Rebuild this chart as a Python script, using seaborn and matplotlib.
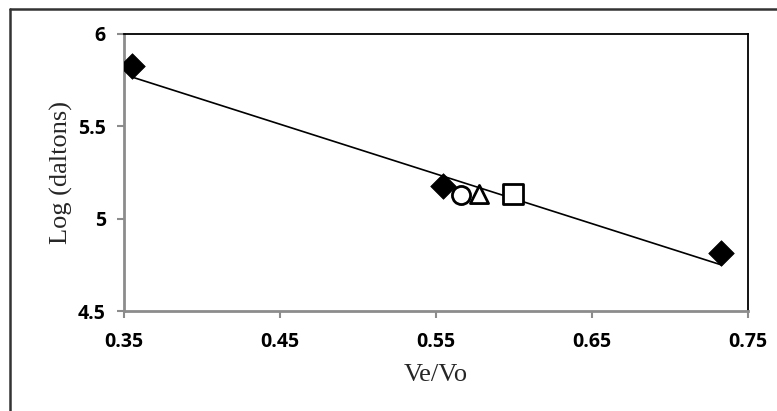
import matplotlib
matplotlib.use("Agg")
import matplotlib.pyplot as plt
from matplotlib.lines import Line2D
import seaborn as sns

# Data
standards_x = [0.355, 0.5547, 0.7327]   # filled diamonds
standards_y = [5.824, 5.176, 4.816]
circle_x = [0.566]
circle_y = [5.128]
triangle_x = [0.5776]
triangle_y = [5.133]
square_x = [0.5996]
square_y = [5.13]
trend_x = [0.355, 0.733]
trend_y = [5.765, 4.749]

x_ticks = [0.35, 0.45, 0.55, 0.65, 0.75]
y_ticks = [4.5, 5, 5.5, 6]
x_tick_labels = ["0.35", "0.45", "0.55", "0.65", "0.75"]
y_tick_labels = ["4.5", "5", "5.5", "6"]

sns.set_style("white")
plt.rcParams["font.family"] = ["Open Sans", "DejaVu Sans"]

fig = plt.figure(figsize=(7.77, 4.11), dpi=100)
ax = fig.add_axes([124 / 777, 1 - 311 / 411, (748 - 124) / 777, (311 - 33.5) / 411])

sns.lineplot(x=trend_x, y=trend_y, ax=ax, color="black", linewidth=1.2, legend=False)
sns.scatterplot(x=standards_x, y=standards_y, ax=ax, marker="D", s=170,
                color="black", edgecolor="black", linewidth=0.5, legend=False, zorder=3)
sns.scatterplot(x=circle_x, y=circle_y, ax=ax, marker="o", s=170,
                facecolor="white", edgecolor="black", linewidth=2, legend=False, zorder=3)
sns.scatterplot(x=triangle_x, y=triangle_y, ax=ax, marker="^", s=170,
                facecolor="white", edgecolor="black", linewidth=2, legend=False, zorder=3)
sns.scatterplot(x=square_x, y=square_y, ax=ax, marker="s", s=190,
                facecolor="white", edgecolor="black", linewidth=2, legend=False, zorder=3)

ax.set_xlim(0.35, 0.75)
ax.set_ylim(4.5, 6)
ax.set_xticks(x_ticks)
ax.set_xticklabels(x_tick_labels, fontweight="bold", fontsize=14, color="black")
ax.set_yticks(y_ticks)
ax.set_yticklabels(y_tick_labels, fontweight="bold", fontsize=14, color="black")

ax.tick_params(axis="both", which="major", direction="out", length=5, width=1.5,
               color="#8c8c8c", left=True, bottom=True)
ax.tick_params(axis="y", pad=8)
ax.tick_params(axis="x", pad=10)

ax.spines["left"].set_color("#8c8c8c")
ax.spines["bottom"].set_color("#8c8c8c")
ax.spines["left"].set_linewidth(2)
ax.spines["bottom"].set_linewidth(2)
ax.spines["top"].set_color("black")
ax.spines["right"].set_color("black")
ax.spines["top"].set_linewidth(1.3)
ax.spines["right"].set_linewidth(1.3)

ax.set_xlabel("Ve/Vo", family=["Liberation Serif"], fontsize=19, labelpad=9)
ax.set_ylabel("Log (daltons)", family=["Liberation Serif"], fontsize=19, labelpad=4)

# outer chart border (left and top edges visible)
fig.add_artist(Line2D([10 / 777, 10 / 777], [0, 1 - 9 / 411], transform=fig.transFigure,
                      color="#333333", linewidth=1.8))
fig.add_artist(Line2D([10 / 777, 1], [1 - 9 / 411, 1 - 9 / 411], transform=fig.transFigure,
                      color="#333333", linewidth=1.8))

fig.savefig("out.png", dpi=100, facecolor="white")
